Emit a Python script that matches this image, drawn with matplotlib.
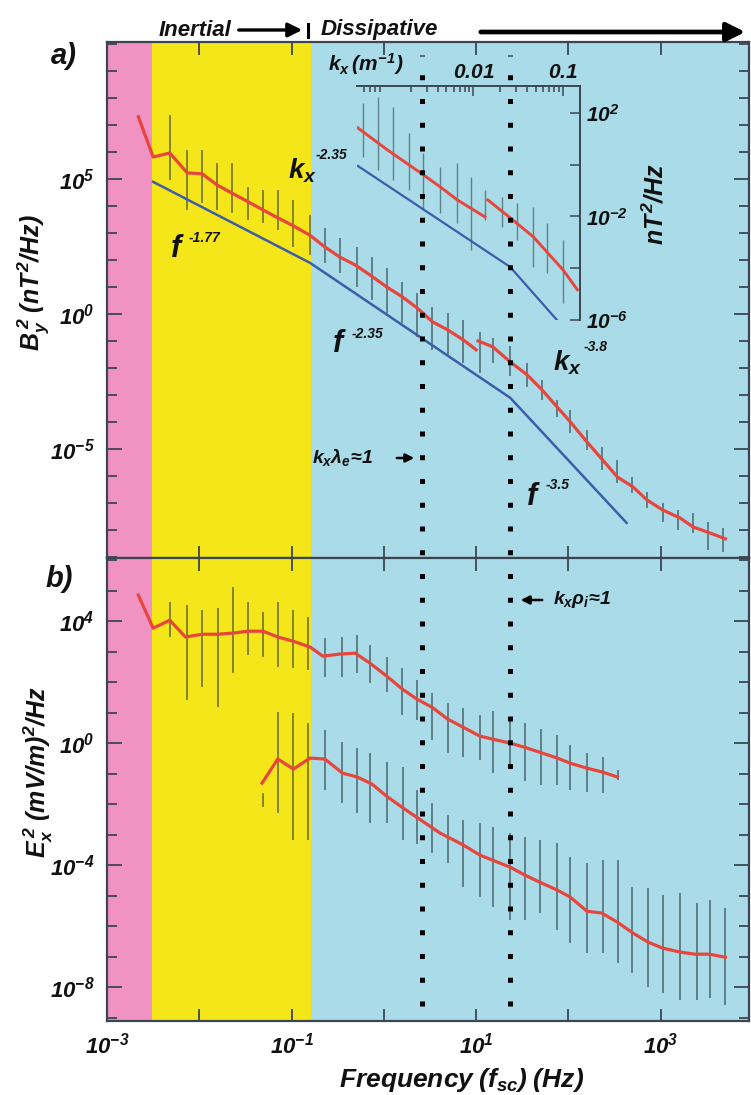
import numpy as np
import matplotlib
matplotlib.use("Agg")
import matplotlib.pyplot as plt
from matplotlib.ticker import FixedLocator, FixedFormatter, NullFormatter
from matplotlib.lines import Line2D
import matplotlib.transforms as mtransforms

# ---------------- data (as decade exponents) ----------------
inertial_start_hz = 0.0031      # pink -> yellow
dissipative_start_hz = 0.162    # yellow -> blue
kx_lambda_e_hz = 2.6            # k_x lambda_e ~ 1
kx_rho_i_hz = 23.3              # k_x rho_i ~ 1

# panel a: B_y^2 median spectrum (two pieces, a jump near 10 Hz)
by1_logf = [-2.66, -2.50, -2.32, -2.13, -1.97, -1.81, -1.65, -1.47, -1.31, -1.15, -0.98, -0.80,
            -0.64, -0.48, -0.31, -0.15, 0.03, 0.20, 0.36, 0.53, 0.69, 0.86, 1.00]
by1_logp = [7.30, 5.81, 5.96, 5.22, 5.19, 4.78, 4.48, 4.15, 3.85, 3.56, 3.26, 2.91,
            2.48, 2.11, 1.81, 1.44, 1.00, 0.63, 0.22, -0.30, -0.59, -0.96, -1.33]
by2_logf = [1.02, 1.18, 1.37, 1.55, 1.71, 2.02, 2.20, 2.37, 2.53, 2.70, 2.85, 3.02, 3.21, 3.35, 3.53, 3.70]
by2_logp = [-1.00, -1.22, -1.78, -2.25, -2.80, -4.00, -4.74, -5.41, -6.04, -6.41, -6.89, -7.26,
            -7.56, -7.89, -8.11, -8.33]
# panel a: power-law fit (breakpoints)
fit_logf = [-2.50, -0.80, 1.37, 2.63]
fit_logp = [4.89, 1.89, -3.11, -7.74]
# panel a: spread of individual spectra
bya_bar_logf = [-2.32, -2.13, -1.97, -1.81, -1.65, -1.47, -1.31, -1.15, -0.98, -0.80, -0.64, -0.48,
                -0.29, -0.13, 0.03, 0.20, 0.36, 0.52, 0.69, 0.86, 1.04, 1.18, 1.37, 1.55, 1.71,
                1.88, 2.02, 2.20, 2.36, 2.53, 2.69, 2.85, 3.02, 3.19, 3.35, 3.51, 3.67]
bya_bar_hi = [7.37, 6.07, 6.07, 5.59, 5.59, 4.70, 4.59, 4.59, 4.22, 3.67, 3.19, 2.81, 2.48, 2.11,
              1.70, 1.19, 0.78, 0.26, 0.04, -0.22, -0.67, -0.90, -1.20, -1.80, -2.44, -3.19,
              -3.56, -4.30, -4.93, -5.41, -6.04, -6.59, -7.00, -7.26, -7.37, -7.70, -7.93]
bya_bar_lo = [4.96, 3.85, 4.11, 3.85, 3.74, 3.48, 3.37, 3.11, 2.48, 2.19, 1.89, 1.52, 1.00, 0.52,
              0.04, -0.33, -0.85, -1.33, -1.52, -1.81, -2.19, -1.81, -2.30, -2.70, -3.19, -3.81,
              -4.41, -5.04, -5.78, -6.26, -6.63, -7.19, -7.70, -8.00, -8.11, -8.74, -8.81]

# inset: spectrum versus k_x (m^-1)
ink1_logk = [-3.29, -2.96, -2.56, -2.37, -2.18, -1.87]
ink1_logp = [1.42, 0.57, -0.39, -0.86, -1.36, -2.02]
ink2_logk = [-1.84, -1.59, -1.33, -1.18, -1.00, -0.84]
ink2_logp = [-1.36, -2.05, -2.79, -3.37, -4.06, -4.83]
infit_logk = [-3.29, -1.59, -1.07]
infit_logp = [-0.05, -3.95, -5.99]
inbar_logk = [-3.23, -3.06, -2.90, -2.72, -2.56, -2.37, -2.18, -2.03, -1.87, -1.68, -1.51, -1.33, -1.18, -1.00]
inbar_hi = [2.39, 2.62, 2.23, 1.23, 0.46, -0.08, 0.07, -0.47, -0.97, -1.24, -1.47, -1.63, -2.25, -2.90]
inbar_lo = [0.30, -0.20, -0.59, -0.97, -1.75, -1.86, -2.25, -3.29, -2.13, -2.40, -2.90, -3.95, -4.18, -5.34]

# panel b: E_x^2, upper spectrum
eu_logf = [-2.66, -2.50, -2.32, -2.15, -1.97, -1.80, -1.63, -1.47, -1.31, -1.15, -0.98, -0.80,
           -0.66, -0.48, -0.31, -0.15, 0.03, 0.20, 0.36, 0.52, 0.69, 0.86, 1.04, 1.18, 1.37,
           1.55, 1.72, 1.88, 2.02, 2.20, 2.37, 2.53]
eu_logp = [4.85, 3.77, 4.03, 3.48, 3.57, 3.57, 3.61, 3.67, 3.67, 3.48, 3.34, 3.15, 2.85, 2.92,
           2.95, 2.62, 2.20, 1.77, 1.44, 1.18, 0.79, 0.52, 0.23, 0.13, 0.00, -0.16, -0.33,
           -0.49, -0.66, -0.82, -0.95, -1.11]
eu_bar_logf = [-2.32, -2.13, -1.97, -1.80, -1.63, -1.47, -1.31, -1.15, -0.98, -0.82, -0.64, -0.45,
               -0.29, -0.15, 0.03, 0.20, 0.36, 0.52, 0.69, 0.86, 1.04, 1.18, 1.37, 1.53, 1.70,
               1.88, 2.02, 2.20, 2.37, 2.54]
eu_bar_hi = [4.62, 4.52, 4.36, 4.43, 5.11, 4.62, 4.30, 4.62, 4.36, 4.13, 3.44, 3.48, 3.54, 3.21,
             2.82, 2.46, 2.07, 1.64, 1.31, 1.15, 0.92, 1.05, 0.80, 0.66, 0.46, 0.26, -0.07,
             -0.33, -0.46, -0.89]
eu_bar_lo = [3.48, 1.41, 1.84, 1.18, 2.30, 2.89, 2.82, 2.49, 2.46, 2.39, 2.16, 2.16, 2.30, 1.97,
             1.67, 0.92, 0.75, 0.10, -0.33, -0.46, -0.56, -0.98, -0.85, -1.25, -1.38, -1.38,
             -1.54, -1.61, -1.64, -1.21]

# panel b: E_x^2, lower spectrum
el_logf = [-1.32, -1.15, -0.98, -0.80, -0.64, -0.45, -0.29, -0.13, 0.03, 0.21, 0.37, 0.61, 0.86,
           1.04, 1.18, 1.37, 1.53, 1.69, 1.88, 2.02, 2.20, 2.36, 2.53, 2.70, 2.86, 3.02, 3.21,
           3.37, 3.53, 3.70]
el_logp = [-1.31, -0.52, -0.85, -0.49, -0.52, -0.98, -1.11, -1.34, -1.74, -2.13, -2.46, -2.95,
           -3.34, -3.67, -3.84, -4.07, -4.33, -4.56, -4.82, -5.05, -5.51, -5.57, -5.87, -6.23,
           -6.52, -6.72, -6.85, -6.92, -6.92, -7.02]
el_bar_logf = [-1.31, -1.15, -0.98, -0.82, -0.64, -0.45, -0.29, -0.15, 0.03, 0.21, 0.36, 0.52,
               0.69, 0.86, 1.04, 1.18, 1.37, 1.53, 1.69, 1.88, 2.02, 2.20, 2.37, 2.54, 2.69,
               2.86, 3.02, 3.21, 3.39, 3.53, 3.70]
el_bar_hi = [-1.64, 1.02, 0.98, 0.66, 0.43, 0.03, -0.16, -0.33, -0.62, -0.79, -1.54, -1.97,
             -2.36, -2.52, -2.62, -2.75, -2.95, -3.08, -3.18, -3.28, -3.74, -3.93, -3.84, -3.84,
             -4.72, -4.75, -4.98, -4.92, -5.25, -5.15, -5.41]
el_bar_lo = [-2.10, -2.30, -3.18, -3.18, -1.54, -1.97, -2.30, -2.62, -2.62, -3.18, -3.30, -3.60,
             -3.93, -4.72, -5.05, -5.38, -5.80, -5.80, -5.57, -6.13, -6.56, -6.89, -6.89, -7.21,
             -7.54, -8.00, -8.20, -8.43, -8.43, -8.36, -8.59]

xtick_exps = [-3, -2, -1, 0, 1, 2, 3]
xlabel_exps = [-3, -1, 1, 3]
ya_label_exps = [5, 0, -5]
yb_label_exps = [4, 0, -4, -8]
inset_ylabel_exps = [2, -2, -6]
inset_xtick_vals = [0.01, 0.1]
inset_xtick_labels = ["0.01", "0.1"]

# ---------------- style ----------------
plt.rcParams["font.family"] = ["Liberation Sans", "DejaVu Sans"]
plt.rcParams["mathtext.fontset"] = "custom"
for k in ("rm", "it", "bf", "sf"):
    plt.rcParams["mathtext." + k] = "Liberation Sans:bold:italic"

PINK = "#F092C2"
YELLOW = "#F4E619"
BLUE_BG = "#A9DCE8"
RED = "#E8453C"
BLUE = "#3D5DA8"
BAR = "#26363d"
AXC = "#3b4650"
TXT = dict(fontweight="bold", style="italic", color="#111111")

W, H = 751, 1095
fig = plt.figure(figsize=(W / 100, H / 100), dpi=100)


def fx(x):
    return x / W


def fy(y):
    return 1 - y / H


def P(v):
    return 10.0 ** np.asarray(v, dtype=float)


ax_a = fig.add_axes([fx(107), fy(558), fx(749) - fx(107), fy(42) - fy(558)])
ax_b = fig.add_axes([fx(107), fy(1021), fx(749) - fx(107), fy(558) - fy(1021)])

xlim = (10 ** -3.0, 10 ** 3.956)
for ax, ylim, labexps, allexps in (
    (ax_a, (10 ** -9.04, 10 ** 10.07), ya_label_exps, range(-9, 11)),
    (ax_b, (10 ** -9.11, 10 ** 6.07), yb_label_exps, range(-9, 7)),
):
    ax.set_xscale("log")
    ax.set_yscale("log")
    ax.set_xlim(*xlim)
    ax.set_ylim(*ylim)
    ax.axvspan(xlim[0], inertial_start_hz, color=PINK, lw=0, zorder=0)
    ax.axvspan(inertial_start_hz, dissipative_start_hz, color=YELLOW, lw=0, zorder=0)
    ax.axvspan(dissipative_start_hz, xlim[1], color=BLUE_BG, lw=0, zorder=0)
    ax.yaxis.set_major_locator(FixedLocator(P(labexps)))
    ax.yaxis.set_major_formatter(FixedFormatter([r"$10^{%d}$" % e for e in labexps]))
    ax.yaxis.set_minor_locator(FixedLocator(P([e for e in allexps if e not in labexps])))
    ax.yaxis.set_minor_formatter(NullFormatter())
    ax.tick_params(axis="both", which="both", direction="in", colors=AXC, width=1.3,
                   top=True, right=True, labelsize=16, labelcolor="#111111")
    ax.tick_params(axis="y", which="major", length=11, pad=9)
    ax.tick_params(axis="y", which="minor", length=7)
    ax.tick_params(axis="x", which="both", length=9)
    for s in ax.spines.values():
        s.set_color(AXC)
        s.set_linewidth(1.6)

ax_a.xaxis.set_major_locator(FixedLocator(P(xtick_exps)))
ax_a.xaxis.set_major_formatter(NullFormatter())
ax_a.xaxis.set_minor_locator(FixedLocator([]))
ax_b.xaxis.set_major_locator(FixedLocator(P(xlabel_exps)))
ax_b.xaxis.set_major_formatter(FixedFormatter([r"$10^{%d}$" % e for e in xlabel_exps]))
ax_b.xaxis.set_minor_locator(FixedLocator(P([e for e in xtick_exps if e not in xlabel_exps])))
ax_b.xaxis.set_minor_formatter(NullFormatter())
ax_b.tick_params(axis="x", which="major", pad=8)

# ---- panel a ----
ax_a.vlines(P(bya_bar_logf), P(bya_bar_lo), P(bya_bar_hi), color=BAR, lw=1.2, alpha=0.65, zorder=2)
ax_a.plot(P(fit_logf), P(fit_logp), color=BLUE, lw=1.8, zorder=3)
ax_a.plot(P(by1_logf), P(by1_logp), color=RED, lw=2.3, zorder=4)
ax_a.plot(P(by2_logf), P(by2_logp), color=RED, lw=2.3, zorder=4)

# ---- panel b ----
ax_b.vlines(P(eu_bar_logf), P(eu_bar_lo), P(eu_bar_hi), color=BAR, lw=1.2, alpha=0.65, zorder=2)
ax_b.vlines(P(el_bar_logf), P(el_bar_lo), P(el_bar_hi), color=BAR, lw=1.2, alpha=0.65, zorder=2)
ax_b.plot(P(eu_logf), P(eu_logp), color=RED, lw=2.3, zorder=4)
ax_b.plot(P(el_logf), P(el_logp), color=RED, lw=2.3, zorder=4)

# ---- inset ----
ax_i = fig.add_axes([fx(357), fy(320), fx(580) - fx(357), fy(86) - fy(320)])
ax_i.set_facecolor("none")
ax_i.set_xscale("log")
ax_i.set_yscale("log")
ax_i.set_xlim(10 ** -3.30, 10 ** -0.81)
ax_i.set_ylim(10 ** -6.0, 10 ** 3.04)
for side in ("left", "bottom"):
    ax_i.spines[side].set_visible(False)
for side in ("top", "right"):
    ax_i.spines[side].set_color(AXC)
    ax_i.spines[side].set_linewidth(1.4)
ax_i.xaxis.tick_top()
ax_i.yaxis.tick_right()
ax_i.xaxis.set_major_locator(FixedLocator(inset_xtick_vals))
ax_i.xaxis.set_major_formatter(FixedFormatter(["$%s$" % s for s in inset_xtick_labels]))
ax_i.yaxis.set_major_locator(FixedLocator(P(inset_ylabel_exps)))
ax_i.yaxis.set_major_formatter(FixedFormatter([r"$10^{%d}$" % e for e in inset_ylabel_exps]))
ax_i.yaxis.set_minor_locator(FixedLocator(P([0, -4])))
ax_i.yaxis.set_minor_formatter(NullFormatter())
ax_i.xaxis.set_minor_formatter(NullFormatter())
ax_i.tick_params(axis="both", which="both", direction="in", colors=AXC, width=1.1,
                 labelsize=15, labelcolor="#111111")
ax_i.tick_params(axis="x", which="major", length=7, pad=3)
ax_i.tick_params(axis="x", which="minor", length=4)
ax_i.tick_params(axis="y", which="both", length=7, pad=4)
ax_i.vlines(P(inbar_logk), P(inbar_lo), P(inbar_hi), color=BAR, lw=1.0, alpha=0.55, zorder=2)
ax_i.plot(P(infit_logk), P(infit_logp), color=BLUE, lw=1.6, zorder=3)
ax_i.plot(P(ink1_logk), P(ink1_logp), color=RED, lw=2.1, zorder=4)
ax_i.plot(P(ink2_logk), P(ink2_logp), color=RED, lw=2.1, zorder=4)

# ---- dotted k_x scale markers, running through both panels ----
blend = mtransforms.blended_transform_factory(ax_a.transData, fig.transFigure)
for fmark in (kx_lambda_e_hz, kx_rho_i_hz):
    fig.add_artist(Line2D([fmark, fmark], [fy(1006), fy(55)], transform=blend, color="black",
                          lw=3.6, linestyle=(0, (1, 3.75)), dash_capstyle="butt", zorder=10))

# ---------------- texts ----------------
fig.text(fx(195), fy(30), "Inertial", fontsize=16, ha="center", va="center", **TXT)
fig.add_artist(matplotlib.patches.FancyArrowPatch((fx(236), fy(30)), (fx(305), fy(30)),
               transform=fig.transFigure, arrowstyle="-|>,head_length=0.6,head_width=0.3",
               mutation_scale=14, lw=2.4, color="black"))
fig.add_artist(Line2D([fx(308), fx(308)], [fy(24), fy(37)], color="black", lw=2.2))
fig.text(fx(321), fy(30), "Dissipative", fontsize=16, ha="left", va="center", **TXT)
fig.add_artist(matplotlib.patches.FancyArrowPatch((fx(478), fy(32)), (fx(748), fy(32)),
               transform=fig.transFigure, arrowstyle="-|>,head_length=0.7,head_width=0.35",
               mutation_scale=16, lw=3.4, color="black"))

fig.text(fx(64), fy(56), "a)", fontsize=21, ha="center", va="center", **TXT)
fig.text(fx(59), fy(579), "b)", fontsize=21, ha="center", va="center", **TXT)

fig.text(fx(366), fy(64), r"$k_x\,(m^{-1})$", fontsize=15, ha="center", va="center", **TXT)
fig.text(fx(655), fy(204), r"$nT^2/Hz$", fontsize=18, ha="center", va="center", rotation=90, **TXT)

fig.text(fx(33), fy(282), r"$B_y^{\,2}\;(nT^2/Hz)$", fontsize=18, ha="center", va="center",
         rotation=90, **TXT)
fig.text(fx(38), fy(772), r"$E_x^{\,2}\;(mV/m)^2/Hz$", fontsize=18, ha="center", va="center",
         rotation=90, **TXT)
fig.text(fx(462), fy(1080), r"$Frequency\;(f_{sc})\;(Hz)$", fontsize=19, ha="center",
         va="center", **TXT)


def power_label(x, y, base, exp, bsize=22, esize=10, ex=None, ey=None):
    fig.text(fx(x), fy(y), base, fontsize=bsize, ha="center", va="center", **TXT)
    fig.text(fx(ex), fy(ey), exp, fontsize=esize, ha="left", va="center", **TXT)


power_label(176, 249, "f", "-1.77", ex=189, ey=238)
power_label(302, 171, r"$k_x$", "-2.35", bsize=20, ex=316, ey=155)
power_label(338, 344, "f", "-2.35", ex=352, ey=334)
power_label(567, 363, r"$k_x$", "-3.8", bsize=20, ex=584, ey=347)
power_label(532, 497, "f", "-3.5", ex=546, ey=485)

fig.text(fx(312), fy(458), r"$k_x\lambda_e\!\approx\!1$", fontsize=14, ha="left", va="center", **TXT)
fig.add_artist(matplotlib.patches.FancyArrowPatch((fx(394), fy(458)), (fx(417), fy(458)),
               transform=fig.transFigure, arrowstyle="-|>,head_length=0.5,head_width=0.25",
               mutation_scale=10, lw=1.8, color="black"))
fig.add_artist(matplotlib.patches.FancyArrowPatch((fx(545), fy(600)), (fx(518), fy(600)),
               transform=fig.transFigure, arrowstyle="-|>,head_length=0.5,head_width=0.25",
               mutation_scale=10, lw=1.8, color="black"))
fig.text(fx(553), fy(600), r"$k_x\rho_i\!\approx\!1$", fontsize=14, ha="left", va="center", **TXT)

fig.savefig("out.png", dpi=100)
